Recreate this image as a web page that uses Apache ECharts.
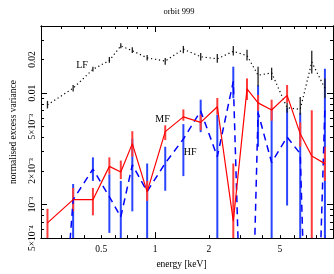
<!DOCTYPE html>
<html><head><meta charset="utf-8">
<script src="https://cdn.jsdelivr.net/npm/echarts@6/dist/echarts.min.js"></script>
<style>html,body{margin:0;padding:0;background:#fff}#c{width:334px;height:274px}</style>
</head><body><div id="c"></div>
<script>
// energy bins (keV)
const energy = [0.250,0.348,0.449,0.555,0.643,0.746,0.903,1.14,1.44,1.80,2.23,2.74,3.27,3.77,4.49,5.48,6.49,7.53,8.92];
// LF (low frequency) normalised excess variance
const lfVal = [7.85e-3,0.01106,0.01634,0.0196,0.0265,0.0240,0.0207,0.0194,0.0248,0.0212,0.0203,0.0237,0.0217,0.01447,0.01519,7.39e-3,7.14e-3,0.01897,0.01106];
const lfLo  = [7.28e-3,0.01035,0.01560,0.0187,0.0253,0.0229,0.0196,0.0180,0.0228,0.0196,0.0187,0.0217,0.0196,0.01151,0.01309,6.68e-3,6.41e-3,0.01497,9.0e-3];
const lfHi  = [8.51e-3,0.01183,0.01726,0.0211,0.0280,0.0258,0.0220,0.0207,0.0265,0.0229,0.0224,0.0265,0.0245,0.01726,0.01690,8.17e-3,9.23e-3,0.0240,0.01355];
// MF (medium frequency)
const mfVal = [6.85e-4,1.106e-3,1.106e-3,2.20e-3,1.96e-3,3.52e-3,1.30e-3,4.51e-3,6.12e-3,5.46e-3,7.54e-3,7.10e-4,0.01091,8.17e-3,7.05e-3,9.55e-3,4.31e-3,2.73e-3,2.33e-3];
const mfLo  = [1e-5,8.69e-4,8.0e-4,1.87e-3,1.69e-3,2.69e-3,1.08e-3,3.79e-3,5.65e-3,4.65e-3,6.41e-3,1e-5,8.68e-3,6.95e-3,5.65e-3,8.17e-3,3.30e-3,1e-5,1.63e-3];
const mfHi  = [9.16e-4,1.41e-3,1.41e-3,2.65e-3,2.48e-3,4.55e-3,1.63e-3,5.14e-3,7.14e-3,6.41e-3,9.04e-3,2.33e-3,0.01355,9.6e-3,8.73e-3,0.01183,5.46e-3,7.00e-3,3.30e-3];
// HF (high frequency); 1e-6 = non-positive value, below the plotted range
const hfVal = [1e-6,1.106e-3,2.08e-3,1.175e-3,7.74e-4,2.27e-3,1.31e-3,2.35e-3,3.87e-3,6.91e-3,2.69e-3,0.01274,1e-6,6.68e-3,2.38e-3,4.03e-3,2.86e-3,1e-6,7.38e-3];
const hfLo  = [null,1e-5,1.63e-3,5.57e-4,1e-5,8.69e-4,1e-5,1.33e-3,1.80e-3,4.46e-3,1e-5,9.0e-3,null,3.3e-3,1e-5,9.8e-4,1e-5,null,1e-5];
const hfHi  = [null,1.53e-3,2.65e-3,1.87e-3,1.63e-3,3.89e-3,2.33e-3,3.30e-3,5.27e-3,8.73e-3,6.4e-3,0.01726,null,0.01175,7.4e-3,7.38e-3,6.68e-3,null,0.01656];

// axis ticks / labels
const xMajorTicks = [1];
const xMinorTicks = [0.3,0.4,0.5,0.6,0.7,0.8,0.9,2,3,4,5,6,7,8,9];
const xLabelVals = [0.5,1,2,5];
const xLabelText = ['0.5','1','2','5'];
const yMajorTicks = [0.001,0.01];
const yMinorTicks = [0.0006,0.0007,0.0008,0.0009,0.002,0.003,0.004,0.005,0.006,0.007,0.008,0.009,0.02,0.03];
const yLabelVals = [0.0005,0.001,0.002,0.005,0.01,0.02];
const yLabelText = ['5×10⁻⁴','10⁻³','2×10⁻³','5×10⁻³','0.01','0.02'];

const FONT = '"Liberation Serif", "Times New Roman", serif';
const XMIN = 0.23, XMAX = 9.9, YMIN = 5e-4, YMAX = 0.04;

function pick(vals, txt){
  return function(v){
    let best = 0, bd = Infinity;
    vals.forEach((t,i)=>{ const d=Math.abs(Math.log10(v)-Math.log10(t)); if(d<bd){bd=d;best=i;} });
    return txt[best];
  };
}
function pairs(v){ return energy.map((e,i)=>[e, v[i]]); }
function bars(lo, hi){ return energy.map((e,i)=>[e, lo[i], hi[i]]).filter(d=>d[1]!=null); }
function errSeries(data, color, w){
  return {type:'custom', xAxisIndex:0, yAxisIndex:0, clip:true, silent:true, z:3,
    encode:{x:0, y:[1,2]}, data:data,
    renderItem:function(params, api){
      const x=api.value(0), p1=api.coord([x, api.value(1)]), p2=api.coord([x, api.value(2)]);
      return {type:'line', shape:{x1:p1[0],y1:p1[1],x2:p2[0],y2:p2[1]}, style:{stroke:color, lineWidth:w}};
    }};
}
function xAx(pos, ticks, len, labels, extra){
  return Object.assign({type:'log', logBase:10, min:XMIN, max:XMAX, position:pos,
    axisLine:{show:true, lineStyle:{color:'#000', width:1}},
    axisTick:{show:true, inside:true, length:len, customValues:ticks, lineStyle:{color:'#000', width:1}},
    axisLabel:labels ? {show:true, customValues:xLabelVals, formatter:pick(xLabelVals,xLabelText), fontFamily:FONT, fontSize:9.5, color:'#000', margin:6} : {show:false},
    splitLine:{show:false}, minorTick:{show:false}}, extra||{});
}
function yAx(pos, ticks, len, labels, extra){
  return Object.assign({type:'log', logBase:10, min:YMIN, max:YMAX, position:pos,
    axisLine:{show:true, lineStyle:{color:'#000', width:1}},
    axisTick:{show:true, inside:true, length:len, customValues:ticks, lineStyle:{color:'#000', width:1}},
    axisLabel:labels ? {show:true, rotate:90, customValues:yLabelVals, formatter:pick(yLabelVals,yLabelText), fontFamily:FONT, fontSize:9.5, color:'#000', margin:4, showMinLabel:true, showMaxLabel:true} : {show:false},
    splitLine:{show:false}, minorTick:{show:false}}, extra||{});
}

const chart = echarts.init(document.getElementById('c'), null, {renderer:'canvas'});
chart.setOption({
  animation:false,
  backgroundColor:'#fff',
  title:{text:'orbit 999', left:179, top:7, textAlign:'center', padding:0,
    textStyle:{fontFamily:FONT, fontSize:8.5, fontWeight:'normal', color:'#000'}},
  grid:{left:37, top:26, right:1, bottom:31, containLabel:false},
  xAxis:[
    xAx('bottom', xMajorTicks, 6, true, {name:'energy [keV]', nameLocation:'middle', nameGap:20,
      nameTextStyle:{fontFamily:FONT, fontSize:9.5, color:'#000', padding:[0,11,0,0]}}),
    xAx('bottom', xMinorTicks, 3, false),
    xAx('top', xMajorTicks, 6, false),
    xAx('top', xMinorTicks, 3, false)
  ],
  yAxis:[
    yAx('left', yMajorTicks, 6, true, {name:'normalised excess variance', nameLocation:'middle', nameGap:23,
      nameTextStyle:{fontFamily:FONT, fontSize:9.5, color:'#000'}}),
    yAx('left', yMinorTicks, 3, false),
    yAx('right', yMajorTicks, 6, false),
    yAx('right', yMinorTicks, 3, false)
  ],
  series:[
    errSeries(bars(hfLo,hfHi), '#2a45ff', 2),
    errSeries(bars(mfLo,mfHi), '#ff3b3b', 2),
    errSeries(bars(lfLo,lfHi), '#222', 1.3),
    {type:'line', name:'LF', data:pairs(lfVal), symbol:'none', clip:true, z:4,
      lineStyle:{color:'#000', width:1.2, type:[1.2,2.8]},
      markPoint:{symbol:'circle', symbolSize:0, silent:true,
        data:[{coord:[0.39,0.0178], label:{show:true, formatter:'LF', position:'inside', fontFamily:FONT, fontSize:10, color:'#000'}}]}},
    {type:'line', name:'MF', data:pairs(mfVal), symbol:'none', clip:true, z:5,
      lineStyle:{color:'#ff0000', width:1.2},
      markPoint:{symbol:'circle', symbolSize:0, silent:true,
        data:[{coord:[1.10,0.0058], label:{show:true, formatter:'MF', position:'inside', fontFamily:FONT, fontSize:10, color:'#000'}}]}},
    {type:'line', name:'HF', data:pairs(hfVal), symbol:'none', clip:true, z:4,
      lineStyle:{color:'#0000ff', width:1.5, type:[7,5]},
      markPoint:{symbol:'circle', symbolSize:0, silent:true,
        data:[{coord:[1.57,0.00292], label:{show:true, formatter:'HF', position:'inside', fontFamily:FONT, fontSize:10, color:'#000'}}]}}
  ]
});
</script>
</body></html>
